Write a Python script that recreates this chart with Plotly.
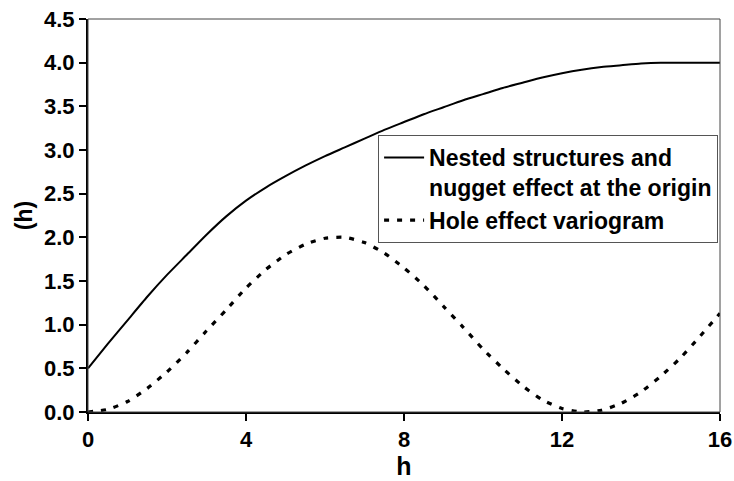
import plotly.graph_objects as go

h_vals = [0, 0.5, 1, 1.5, 2, 2.5, 3, 3.5, 4, 4.5, 5, 5.5, 6, 6.5, 7, 7.5, 8,
          8.5, 9, 9.5, 10, 10.5, 11, 11.5, 12, 12.5, 13, 13.5, 14, 14.5, 15, 15.5, 16]

nested = [0.50, 0.78, 1.05, 1.32, 1.57, 1.80, 2.03, 2.24, 2.42, 2.57, 2.70, 2.82,
          2.93, 3.03, 3.13, 3.23, 3.32, 3.41, 3.49, 3.57, 3.64, 3.71, 3.77, 3.83,
          3.88, 3.92, 3.95, 3.97, 3.99, 4.00, 4.00, 4.00, 4.00]

hole = [0.00, 0.03, 0.12, 0.27, 0.46, 0.68, 0.93, 1.17, 1.42, 1.63, 1.80, 1.92,
        1.99, 2.00, 1.94, 1.82, 1.65, 1.45, 1.21, 0.97, 0.72, 0.50, 0.30, 0.14,
        0.04, 0.00, 0.02, 0.10, 0.23, 0.41, 0.62, 0.87, 1.13]

names = ["Nested structures and<br>nugget effect at the origin", "Hole effect variogram"]
x_ticks = [0, 4, 8, 12, 16]

FONT = "Liberation Sans, Arial, sans-serif"

fig = go.Figure()
fig.add_trace(go.Scatter(x=h_vals, y=nested, mode="lines", name=names[0],
                         line=dict(color="black", width=2, shape="spline", smoothing=0.6)))
fig.add_trace(go.Scatter(x=h_vals, y=hole, mode="lines", name=names[1],
                         line=dict(color="black", width=3.2, dash="5px,8px",
                                   shape="spline", smoothing=0.6)))

fig.update_layout(
    width=734, height=481,
    margin=dict(l=88, r=14, t=19, b=69),
    paper_bgcolor="white", plot_bgcolor="white",
    font=dict(family=FONT, color="black", size=22, weight=700),
    legend=dict(x=0.459, y=0.705, xanchor="left", yanchor="top",
                bordercolor="#555", borderwidth=1, bgcolor="white",
                font=dict(size=23, weight=700, family=FONT),
                valign="top", tracegroupgap=0, itemwidth=40),
    xaxis=dict(range=[0, 16], tickvals=x_ticks, showline=True, linecolor="black",
               linewidth=2, ticks="outside", ticklen=7, tickwidth=1.5,
               tickcolor="black", showgrid=False, zeroline=False, automargin=False,
               title=dict(text="h", font=dict(size=25, weight=700), standoff=1)),
    yaxis=dict(range=[0, 4.5], dtick=0.5, tickformat=".1f", showline=True,
               linecolor="black", linewidth=2, ticks="outside", ticklen=7,
               tickwidth=1.5, tickcolor="black", showgrid=False, zeroline=False,
               automargin=False,
               title=dict(text="(h)", font=dict(size=23, weight=700), standoff=5)),
    shapes=[dict(type="rect", xref="paper", yref="paper", x0=0, y0=0, x1=1, y1=1,
                 line=dict(color="#444", width=1), layer="above")],
)

fig.write_html("out.html")
